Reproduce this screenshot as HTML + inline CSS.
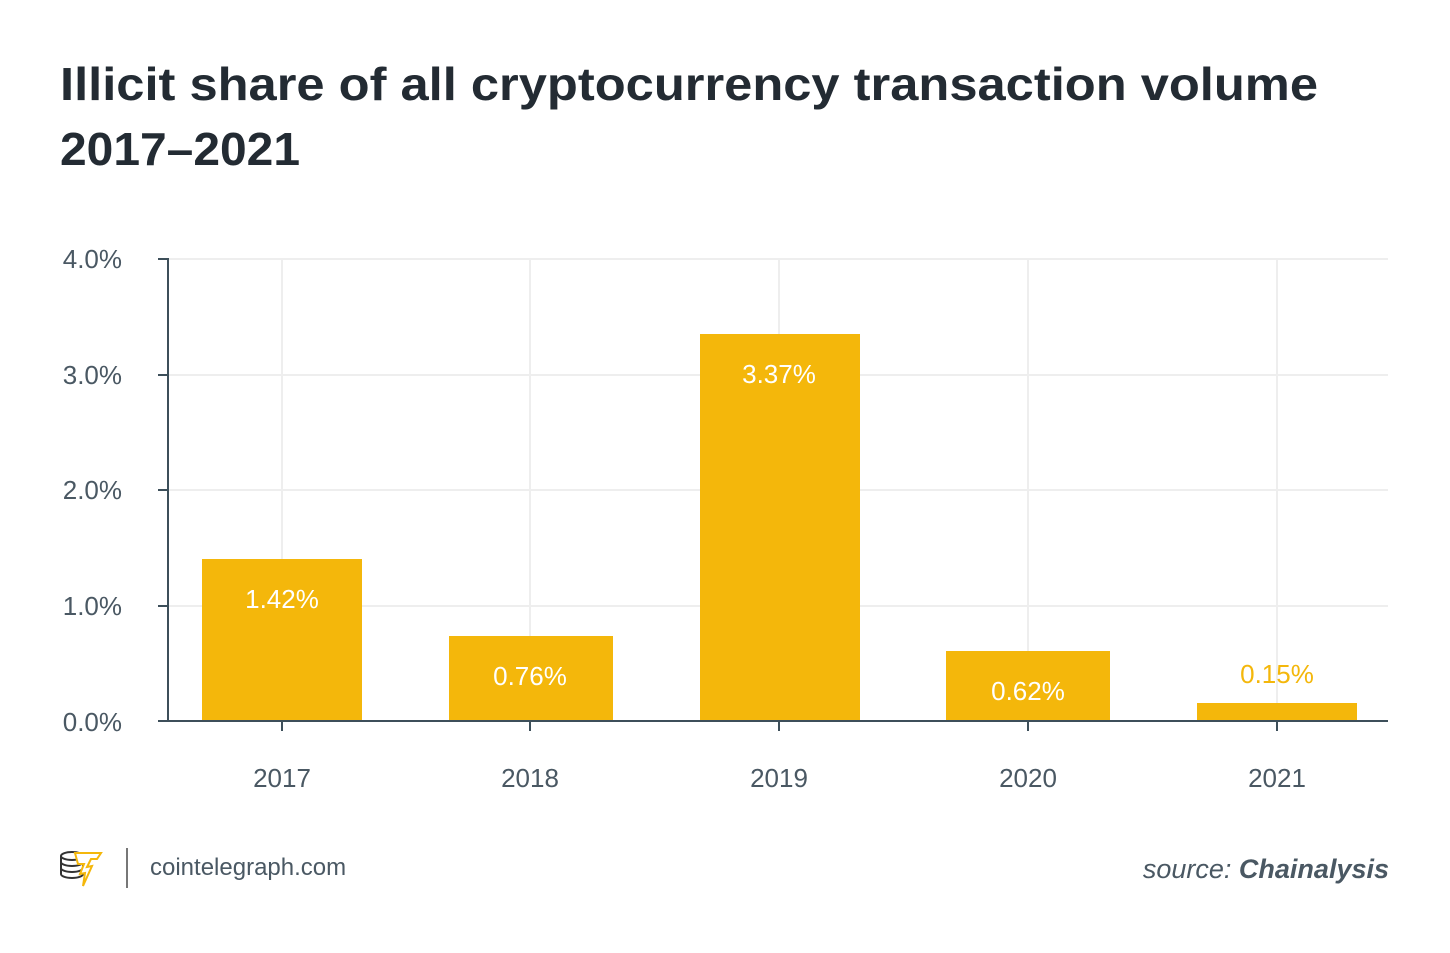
<!DOCTYPE html>
<html><head><style>
body{margin:0;background:#fff;width:1450px;height:948px;overflow:hidden}
svg text{font-family:"Liberation Sans",sans-serif}
</style></head><body>
<svg width="1450" height="948" xmlns="http://www.w3.org/2000/svg">
<text x="60" y="100" font-size="46" font-weight="bold" fill="#232b33" textLength="1258" lengthAdjust="spacingAndGlyphs">Illicit share of all cryptocurrency transaction volume</text>
<text x="60" y="165" font-size="46" font-weight="bold" fill="#232b33" textLength="240" lengthAdjust="spacingAndGlyphs">2017–2021</text>
<g stroke="#eeeeee" stroke-width="2">
<line x1="168" y1="259" x2="1388" y2="259"/><line x1="168" y1="375" x2="1388" y2="375"/>
<line x1="168" y1="490" x2="1388" y2="490"/><line x1="168" y1="606" x2="1388" y2="606"/>
<line x1="282" y1="259" x2="282" y2="721"/><line x1="530" y1="259" x2="530" y2="721"/>
<line x1="779" y1="259" x2="779" y2="721"/><line x1="1028" y1="259" x2="1028" y2="721"/>
<line x1="1277" y1="259" x2="1277" y2="721"/>
</g>
<g fill="#f4b70b">
<rect x="202" y="559" width="160" height="162"/>
<rect x="449" y="636" width="164" height="85"/>
<rect x="700" y="334" width="160" height="387"/>
<rect x="946" y="651" width="164" height="70"/>
<rect x="1197" y="703" width="160" height="18"/>
</g>
<g stroke="#3d4f5a" stroke-width="2">
<line x1="168" y1="258" x2="168" y2="722"/>
<line x1="158" y1="721" x2="1388" y2="721"/>
<line x1="158" y1="259" x2="168" y2="259"/><line x1="158" y1="375" x2="168" y2="375"/>
<line x1="158" y1="490" x2="168" y2="490"/><line x1="158" y1="606" x2="168" y2="606"/>
<line x1="282" y1="721" x2="282" y2="731"/><line x1="530" y1="721" x2="530" y2="731"/>
<line x1="779" y1="721" x2="779" y2="731"/><line x1="1028" y1="721" x2="1028" y2="731"/>
<line x1="1277" y1="721" x2="1277" y2="731"/>
</g>
<g font-size="26" fill="#4a5863" text-anchor="end">
<text x="122" y="268">4.0%</text><text x="122" y="384">3.0%</text>
<text x="122" y="499">2.0%</text><text x="122" y="615">1.0%</text><text x="122" y="731">0.0%</text>
</g>
<g font-size="26" fill="#4a5863" text-anchor="middle">
<text x="282" y="787">2017</text><text x="530" y="787">2018</text><text x="779" y="787">2019</text>
<text x="1028" y="787">2020</text><text x="1277" y="787">2021</text>
</g>
<g font-size="26" fill="#fff" text-anchor="middle">
<text x="282" y="608">1.42%</text><text x="530" y="685">0.76%</text><text x="779" y="383">3.37%</text>
<text x="1028" y="700">0.62%</text><text x="1277" y="683" fill="#f4b70b">0.15%</text>
</g>
<g fill="none" stroke="#333" stroke-width="2">
<ellipse cx="72" cy="856" rx="11" ry="4"/>
<path d="M61 856v18a11 4 0 0 0 22 0v-18M61 862a11 4 0 0 0 22 0M61 868a11 4 0 0 0 22 0"/>
</g>
<path d="M75 853h26l-4 6h-6l-4 8 5-1-9 20 2-13-5 1 4-10h-6z" fill="#fff" stroke="#f4b70b" stroke-width="2"/>
<line x1="127" y1="848" x2="127" y2="888" stroke="#777" stroke-width="2"/>
<text x="150" y="875" font-size="24" fill="#4a5863">cointelegraph.com</text>
<text x="1389" y="878" font-size="27" fill="#4a5863" text-anchor="end" font-style="italic">source: <tspan font-weight="bold">Chainalysis</tspan></text>
</svg>
</body></html>
